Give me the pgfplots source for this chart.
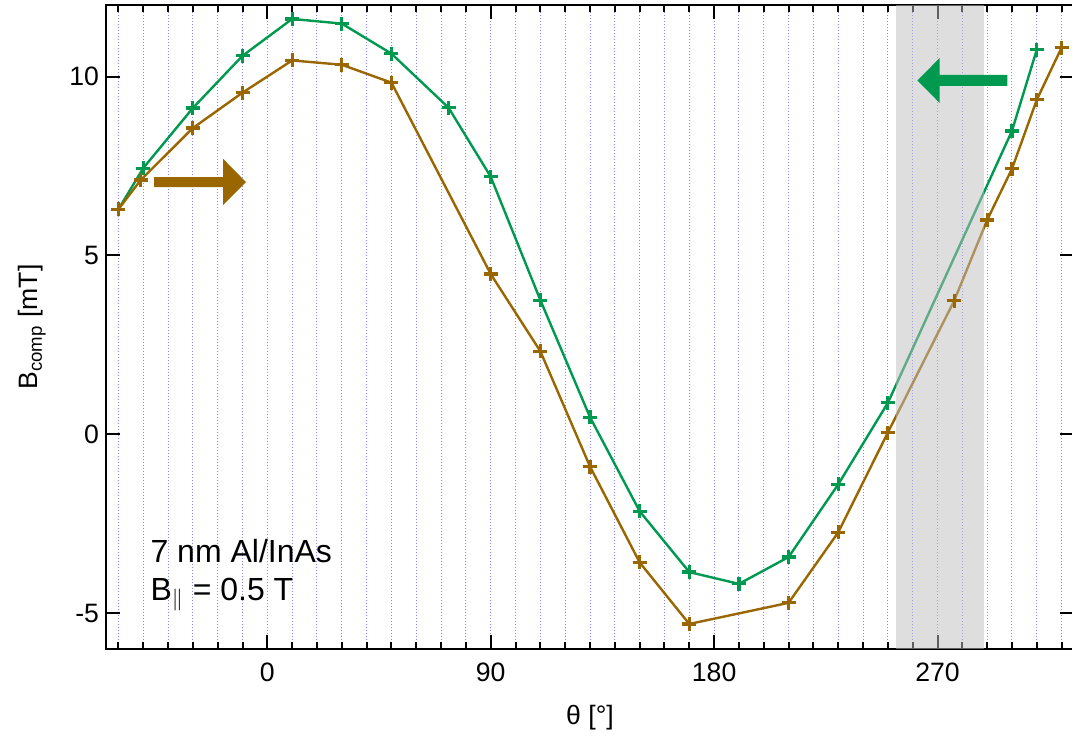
\documentclass[border=0pt]{standalone}
\usepackage{fontspec}
\setmainfont{Liberation Sans}
\usepackage{pgfplots}
\pgfplotsset{compat=1.18}
\definecolor{brn}{RGB}{153,102,0}
\definecolor{grn}{RGB}{0,153,80}
\definecolor{gridc}{RGB}{135,135,255}
\definecolor{bandc}{RGB}{190,190,190}
\begin{document}
\begin{tikzpicture}
\begin{axis}[name=ax, width=484pt, height=322pt, scale only axis,
  xmin=-65, xmax=325, ymin=-6, ymax=12,
  xtick={0,90,180,270}, minor xtick={-60,-50,...,320},
  ytick={-5,0,5,10},
  tick align=inside,
  major tick length=7pt, minor tick length=3.5pt,
  every tick/.style={black, line width=1pt},
  axis line style={line width=1pt},
  xmajorgrids, xminorgrids,
  major grid style={gridc, dash pattern=on 0.5pt off 1pt, line width=0.5pt},
  minor grid style={gridc, dash pattern=on 0.5pt off 1pt, line width=0.5pt},
  ticklabel style={font=\fontsize{13.3}{16}\selectfont},
  xticklabel style={yshift=-3.5pt},
  /pgf/number format/assume math mode=true,
  xlabel={θ [°]}, ylabel={B\textsubscript{comp} [mT]},
  label style={font=\fontsize{13.3}{16}\selectfont},
  xlabel style={at={([yshift=-34.5pt]axis description cs:0.5,0)}, anchor=center},
  ylabel style={at={([xshift=-37pt]axis description cs:0,0.5)}, anchor=center},
]
\addplot[grn, line width=1.2pt, mark=+, mark size=3.5pt, mark options={line width=1.6pt, solid}] coordinates {
(-60,6.29) (-50,7.44) (-30,9.12) (-10,10.58) (10,11.61) (30,11.48) (50,10.64) (73,9.13) (90,7.2) (110,3.75) (130,0.48) (150,-2.15) (170,-3.85) (190,-4.18) (210,-3.43) (230,-1.40) (250,0.88) (300,8.48) (310,10.75)
};
\addplot[brn, line width=1.2pt, mark=+, mark size=3.5pt, mark options={line width=1.6pt, solid}] coordinates {
(-60,6.29) (-51,7.11) (-30,8.56) (-10,9.55) (10,10.45) (30,10.33) (50,9.83) (90,4.48) (110,2.32) (130,-0.9) (150,-3.58) (170,-5.30) (210,-4.71) (230,-2.74) (250,0.05) (276.7,3.73) (290,5.99) (300,7.42) (310,9.35) (320,10.81)
};
\fill[bandc, opacity=0.5] (axis cs:253.2,-6) rectangle (axis cs:288.6,12);
\fill[brn] (axis cs:-45.6,7.19) -- (axis cs:-17.8,7.19) -- (axis cs:-17.8,7.70) -- (axis cs:-8.6,7.05) -- (axis cs:-17.8,6.41) -- (axis cs:-17.8,6.91) -- (axis cs:-45.6,6.91) -- cycle;
\fill[grn] (axis cs:298.2,10.05) -- (axis cs:270.9,10.05) -- (axis cs:270.9,10.52) -- (axis cs:261.9,9.89) -- (axis cs:270.9,9.26) -- (axis cs:270.9,9.74) -- (axis cs:298.2,9.74) -- cycle;
\node[anchor=base west, inner sep=0pt, font=\fontsize{16}{19}\selectfont] at (axis cs:-47.2,-3.58) {7 nm Al/InAs};
\node[anchor=base west, inner sep=0pt, font=\fontsize{16}{19}\selectfont] at (axis cs:-47.2,-4.65) {B\textsubscript{$\parallel$} = 0.5 T};
\end{axis}
\pgfresetboundingbox
\path ([xshift=-53pt,yshift=-46.5pt]ax.south west) rectangle ([xshift=-1pt,yshift=2.5pt]ax.north east);
\end{tikzpicture}
\end{document}
